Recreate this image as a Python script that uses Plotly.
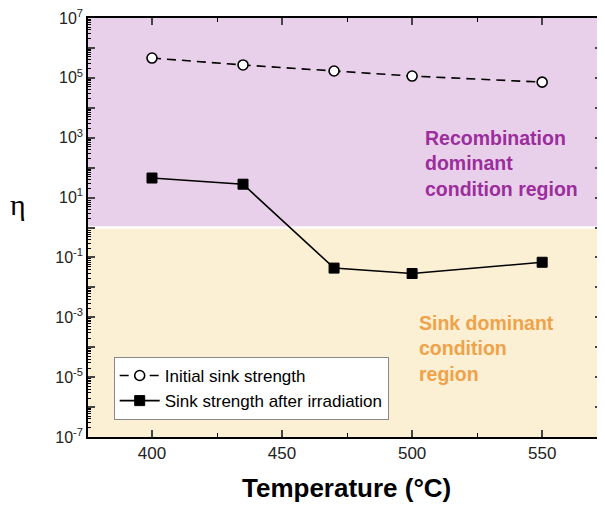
import plotly.graph_objects as go

temps = [400, 435, 470, 500, 550]
initial_sink = [4.6e5, 2.7e5, 1.7e5, 1.15e5, 7.2e4]
after_irr = [45, 28, 0.044, 0.029, 0.069]

ytick_exps = list(range(-7, 8))
ytick_vals = [10.0 ** e for e in ytick_exps]
ytick_text = [f"10<sup>{e}</sup>" if e % 2 != 0 else "" for e in ytick_exps]
xtick_vals = [400, 450, 500, 550]

fig = go.Figure()
fig.add_trace(go.Scatter(
    x=temps, y=initial_sink, mode="lines+markers", name="Initial sink strength",
    line=dict(color="black", width=1.6, dash="9px,6px"),
    marker=dict(symbol="circle", size=10, color="white", line=dict(color="black", width=1.6)),
))
fig.add_trace(go.Scatter(
    x=temps, y=after_irr, mode="lines+markers", name="Sink strength after irradiation",
    line=dict(color="black", width=1.6),
    marker=dict(symbol="square", size=10, color="black", line=dict(color="black", width=1)),
))

shapes = [
    dict(type="rect", xref="paper", yref="paper", x0=0, x1=1, y0=0.5, y1=1,
         fillcolor="#E9D0EA", line=dict(width=0), layer="below"),
    dict(type="rect", xref="paper", yref="paper", x0=0, x1=1, y0=0, y1=0.5,
         fillcolor="#FBF0D3", line=dict(width=0), layer="below"),
    dict(type="line", xref="paper", yref="paper", x0=0, x1=1, y0=0.5, y1=0.5,
         line=dict(color="white", width=2.5), layer="below"),
]

annotations = [
    dict(xref="paper", yref="paper", x=0.652, y=0.745, xanchor="left", yanchor="top",
         align="left", showarrow=False,
         text="<b>Recombination<br>dominant<br>condition region</b>",
         font=dict(family="Arial, Liberation Sans", size=19.5, color="#9B2D9D")),
    dict(xref="paper", yref="paper", x=0.640, y=0.303, xanchor="left", yanchor="top",
         align="left", showarrow=False,
         text="<b>Sink dominant<br>condition<br>region</b>",
         font=dict(family="Arial, Liberation Sans", size=19.5, color="#F0A24A")),
    dict(xref="paper", yref="paper", x=-0.136, y=0.554, xanchor="center", yanchor="middle",
         showarrow=False, text="η",
         font=dict(family="Liberation Serif, DejaVu Serif", size=30, color="black")),
    dict(xref="paper", yref="paper", x=0.502, y=-0.122, xanchor="center", yanchor="middle",
         showarrow=False, text="<b>Temperature (°C)</b>",
         font=dict(family="Arial, Liberation Sans", size=26, color="black")),
]

fig.update_layout(
    width=597, height=497,
    margin=dict(l=80, r=3, t=10, b=68, autoexpand=False),
    paper_bgcolor="white", plot_bgcolor="white",
    shapes=shapes, annotations=annotations,
    showlegend=True,
    legend=dict(x=0.05, y=0.191, xanchor="left", yanchor="top",
                bgcolor="white", bordercolor="#888888", borderwidth=1,
                font=dict(family="Arial, Liberation Sans", size=17, color="black"),
                tracegroupgap=0, itemwidth=40),
    font=dict(family="Arial, Liberation Sans", color="#222222"),
)
fig.update_xaxes(
    range=[375.4, 573], tickvals=xtick_vals, ticks="inside", ticklen=7, tickwidth=1.5,
    showline=True, linecolor="black", linewidth=1.5, mirror="allticks", showgrid=False,
    zeroline=False, tickfont=dict(size=17, color="#222222"), automargin=False,
    minor=dict(tickvals=[425, 475, 525], ticks="inside", ticklen=4, tickwidth=1, tickcolor="black"),
)
fig.update_yaxes(
    type="log", range=[-7.001, 7.001], tickmode="array", tickvals=ytick_vals, ticktext=ytick_text,
    ticks="inside", ticklen=7, tickwidth=1.5, automargin=False, ticklabeloverflow="allow",
    showline=True, linecolor="black", linewidth=1.5, mirror="allticks", showgrid=False,
    zeroline=False, tickfont=dict(size=16, color="#222222"),
    minor=dict(dtick="D1", ticks="inside", ticklen=3.5, tickwidth=1, tickcolor="black"),
)
fig.write_html("out.html")
